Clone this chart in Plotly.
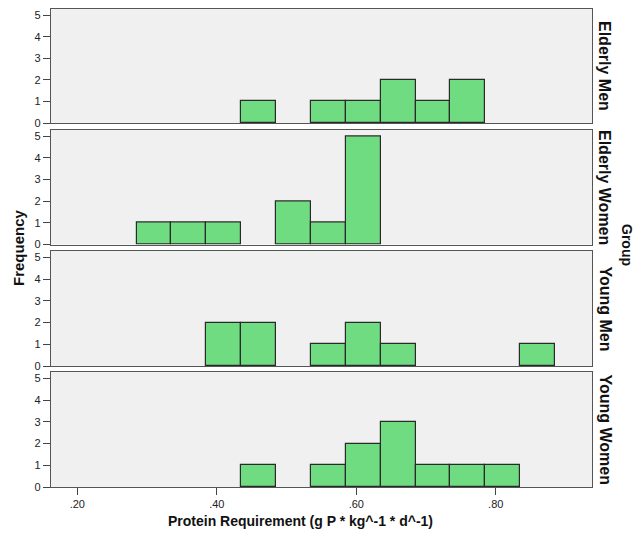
import plotly.graph_objects as go

# Data
bin_centers = [0.31, 0.36, 0.41, 0.46, 0.51, 0.56, 0.61, 0.66, 0.71, 0.76, 0.81, 0.86]
bin_width = 0.05
groups = ["Elderly Men", "Elderly Women", "Young Men", "Young Women"]
elderly_men =   [0, 0, 0, 1, 0, 1, 1, 2, 1, 2, 0, 0]
elderly_women = [1, 1, 1, 0, 2, 1, 5, 0, 0, 0, 0, 0]
young_men =     [0, 0, 2, 2, 0, 1, 2, 1, 0, 0, 0, 1]
young_women =   [0, 0, 0, 1, 0, 1, 2, 3, 1, 1, 1, 0]
counts = [elderly_men, elderly_women, young_men, young_women]
x_tickvals = [0.2, 0.4, 0.6, 0.8]
x_ticktext = [".20", ".40", ".60", ".80"]
y_tickvals = [0, 1, 2, 3, 4, 5]

# page has an 8px body margin; figure sized to fit inside the 644x540 window
OFF = 8
W, H = 644 - 2 * OFF, 540 - 2 * OFF
plot_left_page, plot_right_page = 51, 592
plot_top_page, plot_bottom_page = 9, 487
ml = plot_left_page - OFF
mt = plot_top_page - OFF
mr = W - (plot_right_page - OFF)
mb = H - (plot_bottom_page - OFF)
ph = H - mt - mb
pw = W - ml - mr
panel_px = [(9, 123), (129.5, 244.5), (251, 366), (372, 487)]

def to_paper_y(y_page):
    return 1 - (y_page - OFF - mt) / ph

def to_paper_x(x_page):
    return (x_page - OFF - ml) / pw

fig = go.Figure()
layout = dict(
    width=W, height=H,
    margin=dict(l=ml, r=mr, t=mt, b=mb, autoexpand=False),
    paper_bgcolor="white",
    plot_bgcolor="#F0F0F0",
    showlegend=False,
    bargap=0,
    font=dict(family="Liberation Sans, Arial, sans-serif", size=11, color="#222"),
)

annotations = []
for i, (g, c) in enumerate(zip(groups, counts)):
    idx = "" if i == 0 else str(i + 1)
    xs = [bc for bc, v in zip(bin_centers, c) if v > 0]
    ys = [v for v in c if v > 0]
    fig.add_trace(go.Bar(
        x=xs, y=ys, width=[bin_width] * len(xs),
        marker=dict(color="#70DC82", line=dict(color="#2a2a2a", width=1.2)),
        xaxis="x" + idx, yaxis="y" + idx,
        hoverinfo="x+y",
    ))
    top, bot = panel_px[i]
    dom = [max(0, to_paper_y(bot)), min(1, to_paper_y(top))]
    xa = dict(
        range=[0.1623, 0.938], domain=[0, 1], anchor="y" + idx,
        showline=True, mirror=True, linecolor="#555", linewidth=1.3,
        showgrid=False, zeroline=False,
        tickvals=x_tickvals, ticktext=x_ticktext,
        ticks="outside" if i == 3 else "", ticklen=7, tickcolor="#444",
        showticklabels=(i == 3),
        tickfont=dict(size=11, color="#222"),
    )
    if i > 0:
        xa["matches"] = "x"
    ya = dict(
        range=[0, 5.3], domain=dom, anchor="x" + idx,
        showline=True, mirror=True, linecolor="#555", linewidth=1.3,
        showgrid=False, zeroline=False,
        tickvals=y_tickvals, ticks="outside", ticklen=7, tickcolor="#444",
        tickfont=dict(size=11, color="#222"),
    )
    layout["xaxis" + idx] = xa
    layout["yaxis" + idx] = ya
    annotations.append(dict(
        text="<b>%s</b>" % g, xref="paper", yref="paper",
        x=to_paper_x(605), y=(dom[0] + dom[1]) / 2, xanchor="center", yanchor="middle",
        textangle=90, showarrow=False,
        font=dict(size=16, color="#111"),
    ))

annotations.append(dict(
    text="<b>Group</b>", xref="paper", yref="paper",
    x=to_paper_x(627), y=to_paper_y(245), xanchor="center", yanchor="middle",
    textangle=90, showarrow=False,
    font=dict(size=14, color="#111"),
))
annotations.append(dict(
    text="<b>Frequency</b>", xref="paper", yref="paper",
    x=to_paper_x(18), y=to_paper_y(248), xanchor="center", yanchor="middle",
    textangle=-90, showarrow=False,
    font=dict(size=15, color="#111"),
))
annotations.append(dict(
    text="<b>Protein Requirement (g P * kg^-1 * d^-1)</b>", xref="paper", yref="paper",
    x=to_paper_x(300), y=to_paper_y(521), xanchor="center", yanchor="middle",
    showarrow=False,
    font=dict(size=14, color="#111"),
))
layout["annotations"] = annotations
fig.update_layout(**layout)
fig.write_html("out.html")
